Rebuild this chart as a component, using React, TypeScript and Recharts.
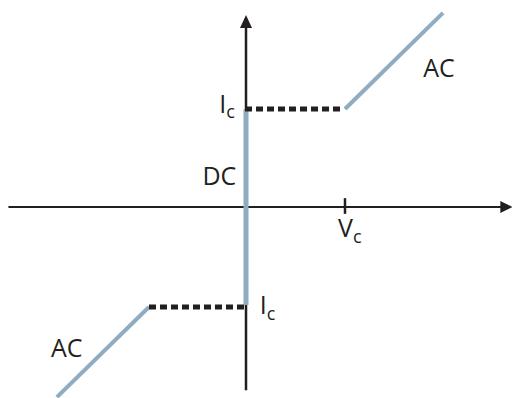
import { ComposedChart, Line, XAxis, YAxis, ReferenceLine, ReferenceDot } from 'recharts'

// I-V characteristic: DC supercurrent branch plus the two AC (resistive) branches
const V_DOMAIN: [number, number] = [-2.485, 2.687]
const I_DOMAIN: [number, number] = [-1.949, 2.112]

const dcBranch = [
  { v: 0, i: -1 },
  { v: 0, i: 1 },
]
const acUpper = [
  { v: 1, i: 1 },
  { v: 1.99, i: 1.98 },
]
const acLower = [
  { v: -0.98, i: -1.02 },
  { v: -1.91, i: -1.94 },
]
const switchUpper = [
  { v: -0.01, i: 1 },
  { v: 0.99, i: 1 },
]
const switchLower = [
  { v: -0.98, i: -1.02 },
  { v: 0.01, i: -1.02 },
]

// axes drawn through the origin
const vAxis = [
  { v: -2.4, i: 0 },
  { v: 2.58, i: 0 },
]
const iAxis = [
  { v: 0, i: -1.87 },
  { v: 0, i: 1.84 },
]
const vArrowTip = { v: 2.69, i: 0 }
const iArrowTip = { v: 0, i: 1.96 }
const vcTick = [
  { x: 1, y: -0.07 },
  { x: 1, y: 0.09 },
]

const annotations = [
  { v: -0.44, i: 0.22, text: 'DC', sub: '', dy: 0 },
  { v: 1.79, i: 1.33, text: 'AC', sub: '', dy: 0 },
  { v: -1.97, i: -1.53, text: 'AC', sub: '', dy: 0 },
  { v: 0.93, i: -0.31, text: 'V', sub: 'c', dy: 6 },
  { v: -0.27, i: 0.96, text: 'I', sub: 'c', dy: 5 },
  { v: 0.14, i: -1.09, text: 'I', sub: 'c', dy: 6 },
]

const INK = '#231f20'
const BRANCH = '#8eacc2'
const FONT = '"Open Sans", sans-serif'

function ArrowRight(props: any) {
  const { cx, cy } = props
  return <path d={`M${cx},${cy} L${cx - 12},${cy - 6} L${cx - 12},${cy + 6} Z`} fill={INK} />
}

function ArrowUp(props: any) {
  const { cx, cy } = props
  return <path d={`M${cx},${cy} L${cx - 6},${cy + 13} L${cx + 6},${cy + 13} Z`} fill={INK} />
}

function makeLabel(text: string, sub: string, dy: number) {
  return (props: any) => (
    <text x={props.cx} y={props.cy} fontFamily={FONT} fontSize={25} fill={INK}>
      {text}
      {sub && (
        <tspan fontSize={18} dy={dy}>
          {sub}
        </tspan>
      )}
    </text>
  )
}

export default function App() {
  return (
    <div style={{ position: 'absolute', left: 0, top: 0, background: '#fff' }}>
      <ComposedChart width={512} height={398} margin={{ top: 0, right: 0, bottom: 0, left: 0 }}>
        <XAxis type="number" dataKey="v" domain={V_DOMAIN} hide allowDataOverflow />
        <YAxis type="number" dataKey="i" domain={I_DOMAIN} hide allowDataOverflow />

        <Line data={vAxis} dataKey="i" type="linear" stroke={INK} strokeWidth={2} dot={false} activeDot={false} isAnimationActive={false} />
        <Line data={iAxis} dataKey="i" type="linear" stroke={INK} strokeWidth={2.5} dot={false} activeDot={false} isAnimationActive={false} />
        <ReferenceLine segment={vcTick} stroke={INK} strokeWidth={2.5} />
        <ReferenceDot x={vArrowTip.v} y={vArrowTip.i} r={0} shape={ArrowRight} ifOverflow="visible" />
        <ReferenceDot x={iArrowTip.v} y={iArrowTip.i} r={0} shape={ArrowUp} ifOverflow="visible" />

        <Line data={dcBranch} dataKey="i" type="linear" stroke={BRANCH} strokeWidth={5} dot={false} activeDot={false} isAnimationActive={false} />
        <Line data={acUpper} dataKey="i" type="linear" stroke={BRANCH} strokeWidth={4} dot={false} activeDot={false} isAnimationActive={false} />
        <Line data={acLower} dataKey="i" type="linear" stroke={BRANCH} strokeWidth={4} dot={false} activeDot={false} isAnimationActive={false} />
        <Line data={switchUpper} dataKey="i" type="linear" stroke={INK} strokeWidth={5} strokeDasharray="7 4" dot={false} activeDot={false} isAnimationActive={false} />
        <Line data={switchLower} dataKey="i" type="linear" stroke={INK} strokeWidth={5} strokeDasharray="7 4" dot={false} activeDot={false} isAnimationActive={false} />

        {annotations.map((a, k) => (
          <ReferenceDot key={k} x={a.v} y={a.i} r={0} shape={makeLabel(a.text, a.sub, a.dy)} ifOverflow="visible" />
        ))}
      </ComposedChart>
    </div>
  )
}
